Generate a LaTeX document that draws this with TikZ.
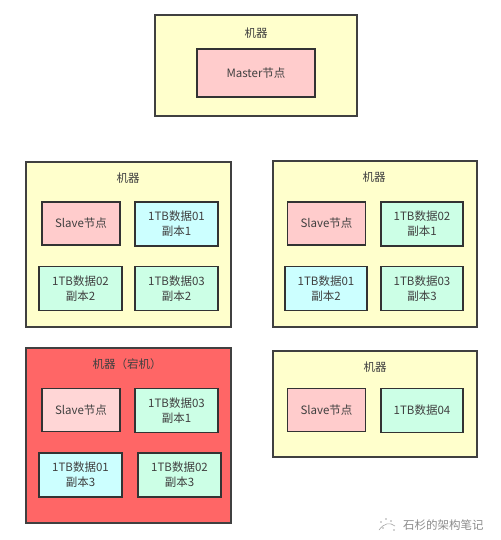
\documentclass[tikz,border=0pt]{standalone}
\usepackage{fontspec}
\setmainfont{Noto Sans CJK SC}
\begin{document}
\begin{tikzpicture}[x=1pt,y=-1pt,
  machine/.style={draw=black!75,line width=1.3pt,fill=mfill,inner sep=0pt},
  deadmachine/.style={machine,fill=deadred},
  item/.style={draw=black!80,line width=1.6pt,inner sep=0pt,align=center,
    font=\fontsize{11.5}{15}\selectfont,text=black!75},
  slave/.style={item,fill=pinkf,minimum width=78pt,minimum height=43pt},
  cyanbox/.style={item,fill=cyanf,minimum width=83pt,minimum height=44pt},
  greenbox/.style={item,fill=greenf,minimum width=83pt,minimum height=44pt},
  title/.style={font=\fontsize{11.5}{12}\selectfont,text=black!75,inner sep=0pt}]
\definecolor{mfill}{RGB}{255,255,204}
\definecolor{deadred}{RGB}{255,102,102}
\definecolor{pinkf}{RGB}{255,204,204}
\definecolor{pinklight}{RGB}{255,214,214}
\definecolor{cyanf}{RGB}{204,255,255}
\definecolor{greenf}{RGB}{204,255,230}
\useasboundingbox[fill=white] (0,0) rectangle (500,540);
% top machine
\node[machine,minimum width=202pt,minimum height=101pt] (m1) at (256,65.5) {};
\node[title] (t1) at (256,33) {机器};
\node[item,fill=pinkf,minimum width=118pt,minimum height=48pt] (master) at (256,73) {Master节点};
% machine 2
\node[machine,minimum width=205pt,minimum height=165pt] (m2) at (128.5,244.5) {};
\node[title] (t2) at (128,178) {机器};
\node[slave] (s2) at (81,223.5) {Slave节点};
\node[cyanbox] (a2) at (176.5,224) {1TB数据01\\副本1};
\node[greenbox] (b2) at (80.5,288.5) {1TB数据02\\副本2};
\node[greenbox] (c2) at (176.5,288.5) {1TB数据03\\副本2};
% machine 3
\node[machine,minimum width=204pt,minimum height=166pt] (m3) at (375,244) {};
\node[title] (t3) at (374,177) {机器};
\node[slave] (s3) at (326.5,223.5) {Slave节点};
\node[greenbox,minimum width=82pt] (a3) at (422,224) {1TB数据02\\副本1};
\node[cyanbox,minimum width=82pt] (b3) at (326,288.5) {1TB数据01\\副本2};
\node[greenbox,minimum width=82pt] (c3) at (422,288.5) {1TB数据03\\副本3};
% machine 4 (down)
\node[deadmachine,minimum width=205pt,minimum height=175pt] (m4) at (128.5,435.5) {};
\node[title] (t4) at (127,364) {机器（宕机）};
\node[slave,fill=pinklight] (s4) at (81,410) {Slave节点};
\node[greenbox] (a4) at (176.5,410.5) {1TB数据03\\副本1};
\node[cyanbox] (b4) at (80.5,475) {1TB数据01\\副本3};
\node[greenbox] (c4) at (179.5,475) {1TB数据02\\副本3};
% machine 5
\node[machine,minimum width=204pt,minimum height=106pt] (m5) at (375,404) {};
\node[title] (t5) at (375,367) {机器};
\node[slave] (s5) at (326.5,410) {Slave节点};
\node[greenbox,minimum width=82pt] (a5) at (422,410.5) {1TB数据04};
% watermark
\node[font=\fontsize{11.5}{12}\selectfont,text=black!45,anchor=west,inner sep=0pt] (wm) at (403,525.5) {石杉的架构笔记};
\draw[black!35,line width=0.6pt] (379,530) .. controls (384,523) and (390,522) .. (395,526);
\foreach \p in {(381,522),(386,519),(391,521),(383,528),(394,530)}
  \fill[black!35] \p circle (0.9pt);
\end{tikzpicture}
\end{document}
